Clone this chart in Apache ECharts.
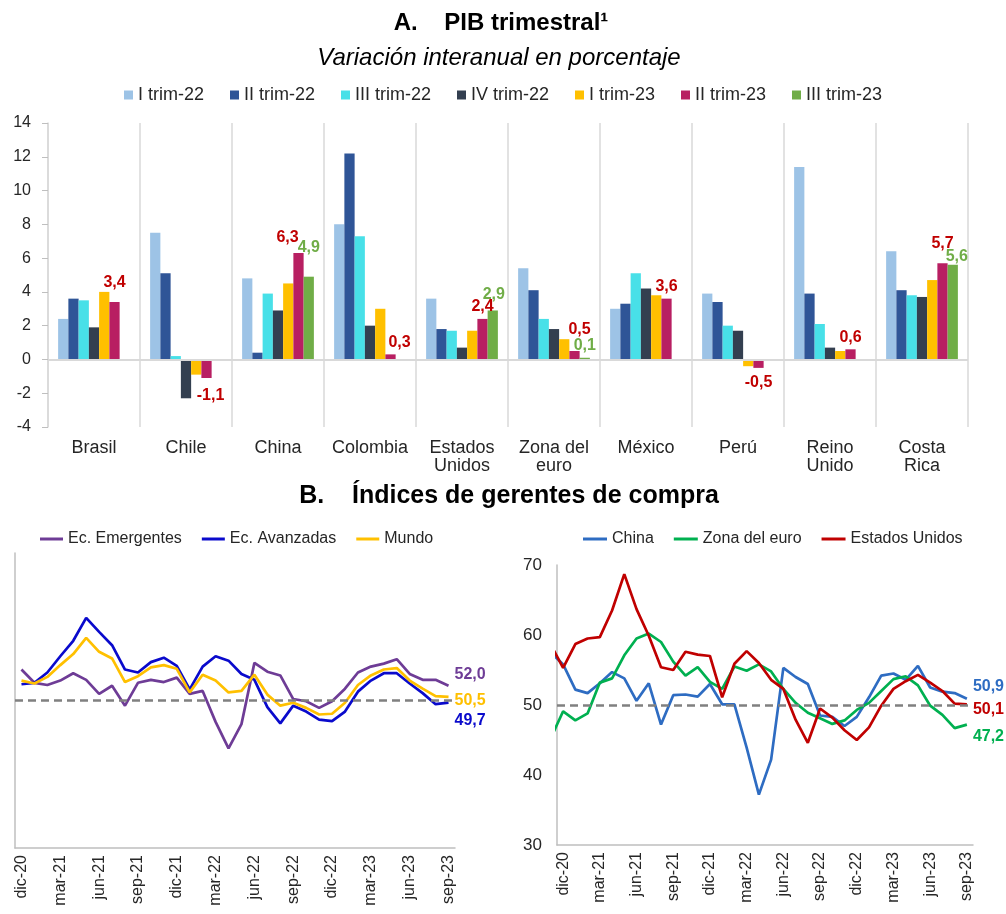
<!DOCTYPE html>
<html><head><meta charset="utf-8">
<script src="https://cdn.jsdelivr.net/npm/echarts@6/dist/echarts.min.js"></script>
<style>html,body{margin:0;padding:0;background:#fff}#c{width:1006px;height:914px}</style>
</head><body><div id="c"></div>
<script>
// ---------- Panel A data ----------
const countries = ['Brasil','Chile','China','Colombia','Estados\nUnidos','Zona del\neuro','México','Perú','Reino\nUnido','Costa\nRica'];
const quarters = ['I trim-22','II trim-22','III trim-22','IV trim-22','I trim-23','II trim-23','III trim-23'];
const q1_22 = [2.4, 7.5, 4.8, 8.0, 3.6, 5.4, 3.0, 3.9, 11.4, 6.4];
const q2_22 = [3.6, 5.1, 0.4, 12.2, 1.8, 4.1, 3.3, 3.4, 3.9, 4.1];
const q3_22 = [3.5, 0.2, 3.9, 7.3, 1.7, 2.4, 5.1, 2.0, 2.1, 3.8];
const q4_22 = [1.9, -2.3, 2.9, 2.0, 0.7, 1.8, 4.2, 1.7, 0.7, 3.7];
const q1_23 = [4.0, -0.9, 4.5, 3.0, 1.7, 1.2, 3.8, -0.4, 0.5, 4.7];
const q2_23 = [3.4, -1.1, 6.3, 0.3, 2.4, 0.5, 3.6, -0.5, 0.6, 5.7];
const q3_23 = [null, null, 4.9, null, 2.9, 0.1, null, null, null, 5.6];

// ---------- Panel B data ----------
const months = ['dic-20','ene-21','feb-21','mar-21','abr-21','may-21','jun-21','jul-21','ago-21','sep-21','oct-21','nov-21',
  'dic-21','ene-22','feb-22','mar-22','abr-22','may-22','jun-22','jul-22','ago-22','sep-22','oct-22','nov-22',
  'dic-22','ene-23','feb-23','mar-23','abr-23','may-23','jun-23','jul-23','ago-23','sep-23'];
const emergentes = [54.2,52.4,52.1,52.7,53.7,52.8,50.9,52.0,49.3,52.4,52.8,52.5,53.1,50.9,51.3,47.1,43.5,46.8,55.1,53.9,53.4,50.2,49.9,49.0,49.9,51.6,53.8,54.6,55.0,55.6,53.6,52.8,52.8,52.0];
const avanzadas  = [52.2,52.4,53.8,56.0,58.1,61.2,59.3,57.5,54.2,53.8,55.2,55.8,54.7,51.5,54.6,56.0,55.4,53.6,52.8,49.1,46.9,49.3,48.5,47.4,47.2,48.5,51.2,52.7,53.7,53.7,52.3,51.0,49.5,49.7];
const mundo      = [52.7,52.3,53.2,54.8,56.3,58.5,56.6,55.7,52.5,53.3,54.5,54.8,54.3,51.1,53.5,52.7,51.1,51.3,53.5,50.8,49.3,49.7,49.0,48.1,48.2,49.7,52.1,53.4,54.2,54.4,52.7,51.6,50.6,50.5];
// right panel series start one month earlier (nov-20), partly hidden behind the axis
const chinaPMI = [57.5,55.8,52.2,51.7,53.1,54.7,53.8,50.6,53.1,47.2,51.4,51.5,51.2,53.0,50.1,50.1,43.9,37.2,42.2,55.3,54.0,53.0,48.5,48.3,47.0,48.3,51.1,54.2,54.5,53.6,55.6,52.5,51.9,51.7,50.9];
const zonaEuro = [45.3,49.1,47.8,48.8,53.2,53.8,57.1,59.5,60.2,59.0,56.2,54.2,55.4,53.3,52.3,55.5,54.9,55.8,54.8,52.3,50.3,48.9,48.1,47.3,47.8,49.3,50.3,52.0,53.7,54.1,52.8,49.9,48.6,46.7,47.2];
const eeuu     = [58.6,55.3,58.7,59.5,59.7,63.5,68.7,63.7,59.9,55.4,55.0,57.6,57.2,57.0,51.1,55.9,57.7,56.0,53.6,52.3,47.9,44.6,49.5,48.2,46.4,45.0,46.8,49.9,52.3,53.4,54.3,53.2,52.0,50.2,50.1];

// ---------- styling ----------
const FONT = "'Liberation Sans', Arial, sans-serif";
const TXT = '#262626';
const barColors = ['#9DC3E6','#2F5597','#48E0E8','#333F50','#FFC000','#B81F62','#70AD47'];
const fmt = v => v.toFixed(1).replace('.', ',');
const redOffsets   = [[0,-7],[4,6],[-11,-3],[9,0],[0,0],[5,-9],[0,0],[0,3],[0,0],[0,-8]];
const greenOffsets = [[0,0],[0,0],[0,-17],[0,0],[1,-4],[0,0],[0,0],[0,0],[0,0],[4,4]];

function labeled(values, offsets, color) {
  return values.map((v, i) => v == null ? null : ({
    value: v,
    label: { show: true, position: v < 0 ? 'bottom' : 'top', distance: 4, offset: offsets[i],
      color: color, fontWeight: 'bold', fontSize: 16, fontFamily: FONT, formatter: fmt(v) }
  }));
}

const barData = [q1_22, q2_22, q3_22, q4_22, q1_23,
  labeled(q2_23, redOffsets, '#C00000'), labeled(q3_23, greenOffsets, '#70AD47')];

const barSeries = quarters.map((q, k) => ({
  name: q, type: 'bar', xAxisIndex: 0, yAxisIndex: 0,
  barGap: '0%', barCategoryGap: '22%',
  itemStyle: { color: barColors[k] },
  data: barData[k],
  markLine: k === 0 ? { silent: true, symbol: 'none', label: { show: false },
    lineStyle: { color: '#D9D9D9', type: 'solid', width: 2 }, data: [{ yAxis: 0 }] } : undefined
}));

const dash50 = { silent: true, symbol: 'none', label: { show: false },
  lineStyle: { color: '#808080', type: [8, 5], width: 2.5 }, data: [{ yAxis: 50 }] };

function lineS(name, data, color, xi, yi, off, mark) {
  return {
    name, type: 'line', xAxisIndex: xi, yAxisIndex: yi, data, symbol: 'none',
    lineStyle: { color, width: 2.7 }, itemStyle: { color },
    endLabel: { show: true, formatter: p => fmt(Array.isArray(p.value) ? p.value[1] : p.value),
      color, fontWeight: 'bold', fontSize: 16, fontFamily: FONT, offset: off, distance: 6 },
    markLine: mark ? dash50 : undefined,
    z: 3
  };
}
const pairs = arr => arr.map((v, i) => [i - 1, v]);

const catAxisLines = (gi) => ({
  type: 'category', gridIndex: gi, data: months, boundaryGap: true,
  axisLine: { onZero: false, lineStyle: { color: '#BFBFBF', width: 1.5 } }, axisTick: { show: false },
  axisLabel: { rotate: 90, interval: 2, fontSize: 16, color: TXT, fontFamily: FONT, margin: 7 },
  splitLine: { show: false }
});
const valAxisLines = (gi) => ({
  type: 'value', gridIndex: gi, min: 30, max: 70, interval: 10,
  axisLine: { show: true, onZero: false, lineStyle: { color: '#BFBFBF', width: 1.5 } }, axisTick: { show: false },
  axisLabel: { fontSize: 17, color: TXT, fontFamily: FONT, margin: 15 },
  splitLine: { show: false }
});

const option = {
  animation: false,
  backgroundColor: '#fff',
  textStyle: { fontFamily: FONT },
  title: [
    { text: 'A.    PIB trimestral¹', left: 496, textAlign: 'center', top: 6,
      textStyle: { fontSize: 24, fontWeight: 'bold', color: '#000', fontFamily: FONT } },
    { text: 'Variación interanual en porcentaje', left: 494, textAlign: 'center', top: 41,
      textStyle: { fontSize: 24, fontStyle: 'italic', fontWeight: 'normal', color: '#000', fontFamily: FONT } },
    { text: 'B.    Índices de gerentes de compra', left: 504, textAlign: 'center', top: 479,
      textStyle: { fontSize: 25, fontWeight: 'bold', color: '#000', fontFamily: FONT } }
  ],
  legend: [
    { data: quarters, left: 'center', top: 86, padding: 0, icon: 'rect', itemWidth: 9, itemHeight: 9, itemGap: 26,
      textStyle: { fontSize: 18, color: TXT, fontFamily: FONT } },
    { data: ['Ec. Emergentes','Ec. Avanzadas','Mundo'], left: 40, top: 531, padding: 0, icon: 'rect',
      itemWidth: 23, itemHeight: 3, itemGap: 20, textStyle: { fontSize: 16, color: TXT, fontFamily: FONT } },
    { data: ['China','Zona del euro','Estados Unidos'], left: 583, top: 531, padding: 0, icon: 'rect',
      itemWidth: 24, itemHeight: 3, itemGap: 20, textStyle: { fontSize: 16, color: TXT, fontFamily: FONT } }
  ],
  grid: [
    { left: 48, right: 38, top: 123, bottom: 487, outerBoundsMode: 'none', containLabel: false },
    { left: 15, right: 551, top: 553, bottom: 66, outerBoundsMode: 'none', containLabel: false },
    { left: 557, right: 33, top: 565, bottom: 69, outerBoundsMode: 'none', containLabel: false }
  ],
  xAxis: [
    { type: 'category', gridIndex: 0, data: countries, position: 'bottom',
      axisLine: { show: false, onZero: false }, axisTick: { show: false },
      axisLabel: { interval: 0, fontSize: 18, lineHeight: 18, color: TXT, fontFamily: FONT, margin: 12 },
      splitLine: { show: true, lineStyle: { color: '#D9D9D9', width: 1.5 } } },
    catAxisLines(1),
    catAxisLines(2),
    { type: 'value', gridIndex: 2, min: -0.5, max: 33.5, show: false, axisLine: { onZero: false }, splitLine: { show: false } }
  ],
  yAxis: [
    { type: 'value', gridIndex: 0, min: -4, max: 14, interval: 2,
      axisLine: { show: true, onZero: false, lineStyle: { color: '#D9D9D9', width: 1.5 } },
      axisTick: { show: true, length: 6, lineStyle: { color: '#BFBFBF' } },
      axisLabel: { fontSize: 16, color: TXT, fontFamily: FONT, margin: 17 },
      splitLine: { show: false } },
    valAxisLines(1),
    valAxisLines(2)
  ],
  series: [
    ...barSeries,
    lineS('Ec. Emergentes', emergentes, '#6E3C96', 1, 1, [0, -11], true),
    lineS('Ec. Avanzadas', avanzadas, '#0A0ACC', 1, 1, [0, 18], false),
    lineS('Mundo', mundo, '#FFC000', 1, 1, [0, 4], false),
    lineS('China', pairs(chinaPMI), '#2E6CC2', 3, 2, [0, -12], true),
    lineS('Zona del euro', pairs(zonaEuro), '#00B050', 3, 2, [0, 12], false),
    lineS('Estados Unidos', pairs(eeuu), '#C00000', 3, 2, [0, 5], false)
  ]
};

const chart = echarts.init(document.getElementById('c'), null, { renderer: 'canvas' });
chart.setOption(option);
</script>
</body></html>
